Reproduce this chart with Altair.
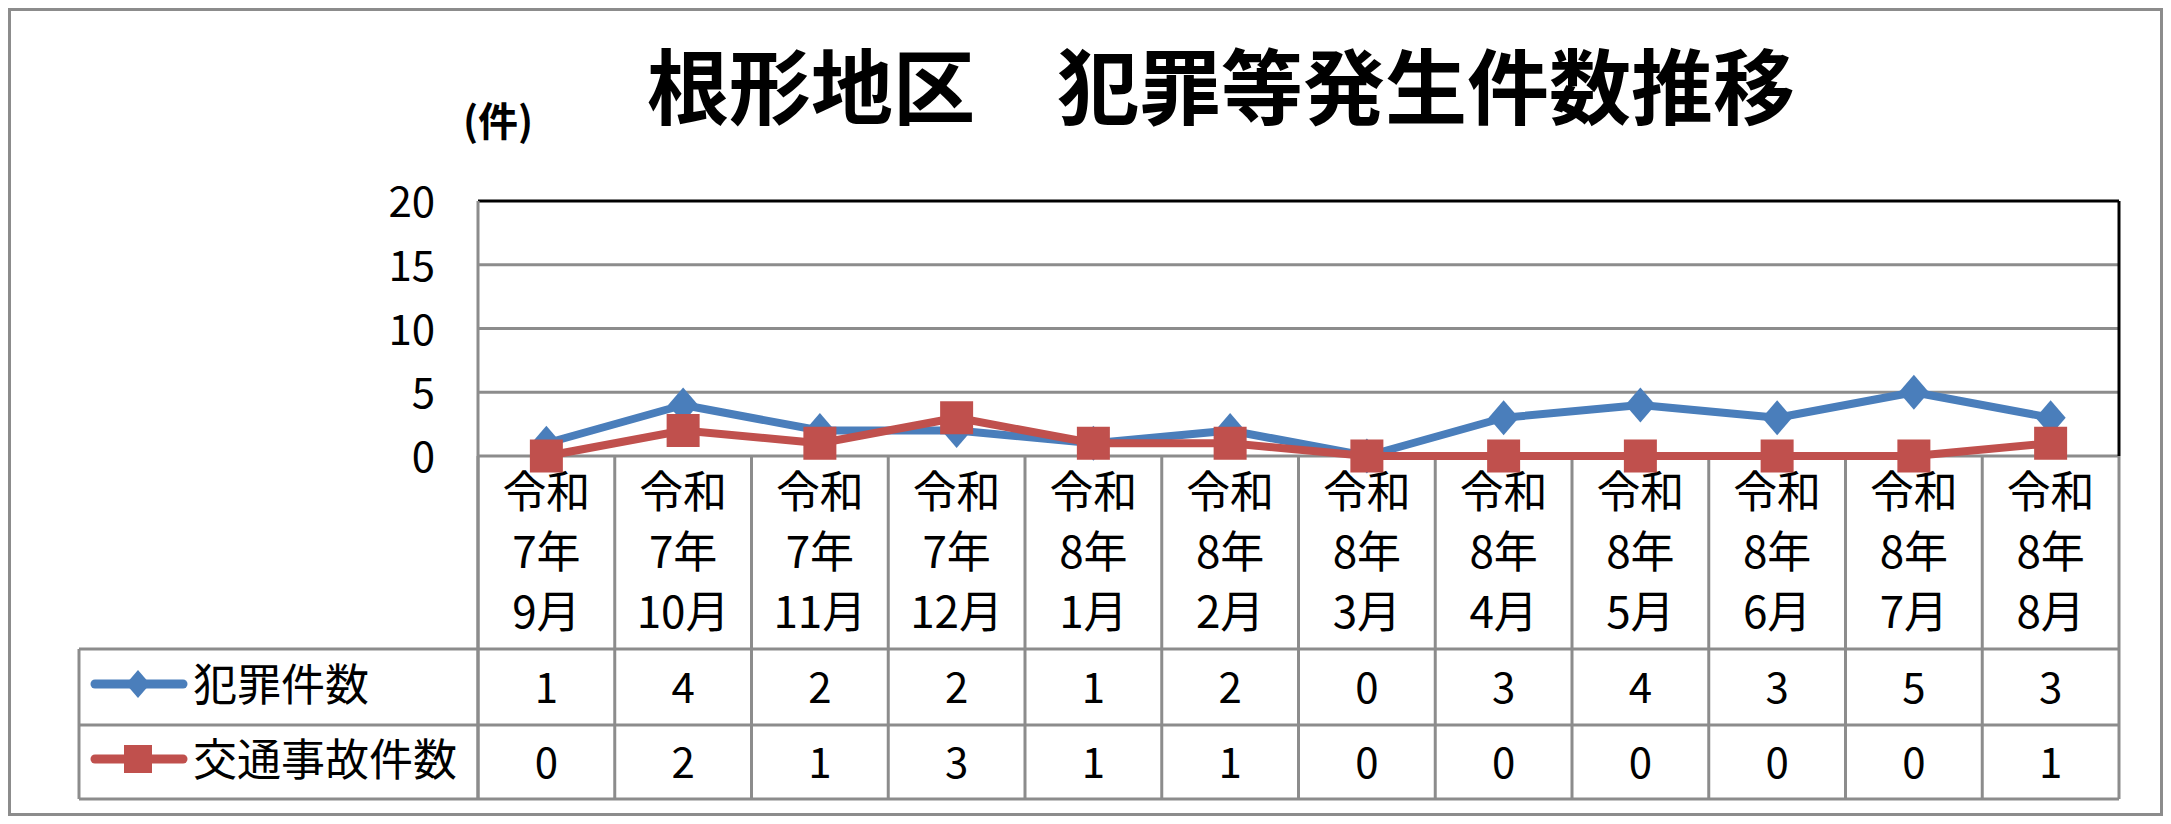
import altair as alt
import pandas as pd

# ---------------- data ----------------
categories = ["令和7年9月", "令和7年10月", "令和7年11月", "令和7年12月",
              "令和8年1月", "令和8年2月", "令和8年3月", "令和8年4月",
              "令和8年5月", "令和8年6月", "令和8年7月", "令和8年8月"]
era_lines = ["令和"] * 12
year_lines = ["7年", "7年", "7年", "7年", "8年", "8年", "8年", "8年", "8年", "8年", "8年", "8年"]
month_lines = ["9月", "10月", "11月", "12月", "1月", "2月", "3月", "4月", "5月", "6月", "7月", "8月"]
crime_counts = [1, 4, 2, 2, 1, 2, 0, 3, 4, 3, 5, 3]
traffic_counts = [0, 2, 1, 3, 1, 1, 0, 0, 0, 0, 0, 1]
y_ticks = [0, 5, 10, 15, 20]
series_names = ["犯罪件数", "交通事故件数"]
title_text = "根形地区　犯罪等発生件数推移"
unit_text = "(件)"

# ---------------- layout (reference pixel coords; page margin 8px) ----------------
def P(v):
    return v - 8

FONT = "Noto Sans CJK JP"
BLUE = "#4A7EBB"
RED = "#C0504D"
GRID = "#8C8C8C"

PLOT_L, PLOT_R, PLOT_T, PLOT_B = 478, 2119, 201, 456
TABLE_L, ROW1_T, ROW2_T, TABLE_B = 79, 649, 725, 799
W, H = 2155, 808

df = pd.DataFrame({
    "cat": categories,
    "era": era_lines,
    "year": year_lines,
    "month": month_lines,
    "crime": crime_counts,
    "traffic": traffic_counts,
})
ticks_df = pd.DataFrame({"v": y_ticks})

xs = alt.Scale(type="band", domain=categories, range=[P(PLOT_L), P(PLOT_R)],
               paddingInner=0, paddingOuter=0)
ys = alt.Scale(domain=[0, 20], range=[P(PLOT_B), P(PLOT_T)], nice=False, zero=False)


def XC(**kw):
    return alt.X("cat:N", scale=xs, axis=None, **kw)


base = alt.Chart(df)
tb = alt.Chart(ticks_df)
one = base.transform_filter(alt.datum.cat == categories[0])

layers = []

# outer frame
layers.append(
    one.mark_rect(fill="white", stroke=GRID, strokeWidth=3).encode(
        x=alt.value(1.5), x2=alt.value(W - 1.5), y=alt.value(1.5), y2=alt.value(H - 1.5)
    )
)

# gridlines (gray), top line black
layers.append(
    tb.mark_rule(color=GRID, strokeWidth=3).encode(
        y=alt.Y("v:Q", scale=ys, axis=None),
        x=alt.value(P(PLOT_L)), x2=alt.value(P(PLOT_R)),
    ).transform_filter(alt.datum.v < 20)
)
layers.append(
    tb.mark_rule(color="black", strokeWidth=3).encode(
        y=alt.Y("v:Q", scale=ys, axis=None),
        x=alt.value(P(PLOT_L)), x2=alt.value(P(PLOT_R)),
    ).transform_filter(alt.datum.v == 20)
)

# y tick labels
layers.append(
    tb.mark_text(align="right", baseline="middle", fontSize=42, font=FONT, color="black", dy=3).encode(
        y=alt.Y("v:Q", scale=ys, axis=None),
        x=alt.value(P(435)),
        text=alt.Text("v:Q"),
    )
)

# plot left edge (gray, runs down through table) and right edge
layers.append(
    one.mark_rule(color=GRID, strokeWidth=3).encode(
        x=alt.value(P(PLOT_L)), y=alt.value(P(PLOT_T)), y2=alt.value(P(TABLE_B))
    )
)
layers.append(
    one.mark_rule(color=GRID, strokeWidth=3).encode(
        x=alt.value(P(PLOT_R)), y=alt.value(P(PLOT_B)), y2=alt.value(P(TABLE_B))
    )
)
layers.append(
    one.mark_rule(color="black", strokeWidth=3).encode(
        x=alt.value(P(PLOT_R)), y=alt.value(P(PLOT_T)), y2=alt.value(P(PLOT_B))
    )
)

# category boundaries in the table
layers.append(
    base.mark_rule(color=GRID, strokeWidth=3).encode(
        x=XC(bandPosition=0), y=alt.value(P(PLOT_B)), y2=alt.value(P(TABLE_B))
    )
)

# table horizontal lines and left edge
for yy in (ROW1_T, ROW2_T, TABLE_B):
    layers.append(
        one.mark_rule(color=GRID, strokeWidth=3).encode(
            x=alt.value(P(TABLE_L)), x2=alt.value(P(PLOT_R)), y=alt.value(P(yy))
        )
    )
layers.append(
    one.mark_rule(color=GRID, strokeWidth=3).encode(
        x=alt.value(P(TABLE_L)), y=alt.value(P(ROW1_T)), y2=alt.value(P(TABLE_B))
    )
)

# category labels (3 lines)
for field, yy in (("era", 491), ("year", 551), ("month", 611)):
    layers.append(
        base.mark_text(align="center", baseline="middle", fontSize=44, font=FONT, color="black").encode(
            x=XC(), y=alt.value(P(yy) + 3.5), text=f"{field}:N"
        )
    )

# table values
for field, yy in (("crime", 687), ("traffic", 762)):
    layers.append(
        base.mark_text(align="center", baseline="middle", fontSize=42, font=FONT, color="black").encode(
            x=XC(), y=alt.value(P(yy) + 3), text=f"{field}:Q"
        )
    )

# legend keys in table
DIAMOND = "M0,-1L0.86,0L0,1L-0.86,0Z"
leg_rows = [(series_names[0], BLUE, DIAMOND, 684), (series_names[1], RED, "square", 759)]
for name, col, shape, yy in leg_rows:
    layers.append(
        one.mark_rule(color=col, strokeWidth=9, strokeCap="round").encode(
            x=alt.value(P(95)), x2=alt.value(P(183)), y=alt.value(P(yy))
        )
    )
    layers.append(
        one.mark_point(shape=shape, filled=True, opacity=1, color=col, size=784).encode(
            x=alt.value(P(138)), y=alt.value(P(yy))
        )
    )
    layers.append(
        one.mark_text(align="left", baseline="middle", fontSize=44, font=FONT, color="black").encode(
            x=alt.value(P(193)), y=alt.value(P(yy) + 3.5), text=alt.value(name)
        )
    )

# data series: crime (blue, diamonds) then traffic (red, squares)
layers.append(
    base.mark_line(color=BLUE, strokeWidth=8, strokeJoin="round").encode(
        x=XC(), y=alt.Y("crime:Q", scale=ys, axis=None)
    )
)
layers.append(
    base.mark_point(shape=DIAMOND, filled=True, opacity=1, color=BLUE, size=1225).encode(
        x=XC(), y=alt.Y("crime:Q", scale=ys, axis=None)
    )
)
layers.append(
    base.mark_line(color=RED, strokeWidth=8, strokeJoin="round").encode(
        x=XC(), y=alt.Y("traffic:Q", scale=ys, axis=None)
    )
)
layers.append(
    base.mark_point(shape="square", filled=True, opacity=1, color=RED, size=1089).encode(
        x=XC(), y=alt.Y("traffic:Q", scale=ys, axis=None)
    )
)

# title and unit label
layers.append(
    one.mark_text(align="center", baseline="middle", fontSize=82, font=FONT, fontWeight="bold",
                  color="black").encode(
        x=alt.value(P(1221)), y=alt.value(P(86) + 6.5), text=alt.value(title_text)
    )
)
layers.append(
    one.mark_text(align="center", baseline="middle", fontSize=40, font=FONT, fontWeight="bold",
                  color="black").encode(
        x=alt.value(P(498)), y=alt.value(P(121) + 3), text=alt.value(unit_text)
    )
)

chart = alt.layer(*layers).properties(
    width=W, height=H, autosize=alt.AutoSizeParams(type="none"), padding=0,
    background="white",
).configure_view(stroke=None)

chart.save("out.html", embed_options={"renderer": "svg", "actions": False})
